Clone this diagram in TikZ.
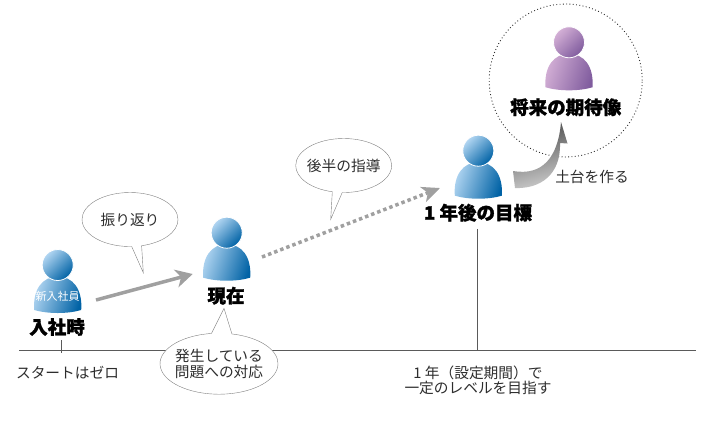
\documentclass[tikz,border=0pt]{standalone}
\usepackage{fontspec}
\setmainfont[BoldFeatures={FakeBold=1.6}]{Noto Sans CJK JP}
\usetikzlibrary{shapes.callouts,arrows.meta}
\definecolor{bluelight}{RGB}{178,214,242}
\definecolor{bluedark}{RGB}{0,98,165}
\definecolor{purplelight}{RGB}{212,176,214}
\definecolor{purpledark}{RGB}{128,92,158}
\definecolor{linegray}{RGB}{90,90,90}
\definecolor{arrowgray}{RGB}{160,160,160}
\definecolor{textgray}{RGB}{45,45,45}
\begin{document}
\begin{tikzpicture}[x=1pt,y=-1pt]
    % Define styles for nodes and arrows
    \tikzstyle{title} = [font=\fontsize{18.5}{18.5}\selectfont\bfseries, text=black, inner sep=0pt]
    \tikzstyle{note} = [font=\fontsize{14.7}{15}\selectfont, text=textgray, align=center, inner sep=0pt]
    \tikzstyle{bubble} = [ellipse callout, draw=gray, fill=white, line width=0.4pt, callout pointer arc=12, font=\fontsize{14.7}{16}\selectfont, text=textgray, align=center, inner sep=-8pt, minimum width=96pt, minimum height=54pt]
    \tikzstyle{axis} = [linegray, line width=1pt]
    \tikzstyle{arrow} = [arrowgray, line width=3.5pt, -{Stealth[length=17pt,width=18pt,inset=5pt]}]
    \tikzset{dotArrow/.style={arrowgray, line width=3.5pt, dash pattern=on 3.5pt off 3pt, -{Stealth[length=18pt,width=16pt,inset=5pt]}}}
    % Person figure, head centre at the pic origin
    \tikzset{person/.pic={
        \shade[top color=#1light, bottom color=#1dark, shading angle=72, draw=none]
            (-23.5,45) .. controls (-25,24) and (-15,11.5) .. (0,11.5)
            .. controls (15,11.5) and (25,24) .. (23.5,45)
            .. controls (10,49) and (-10,49) .. (-23.5,45) -- cycle;
        \shade[top color=#1light, bottom color=#1dark, shading angle=45, draw=white, line width=0.8pt]
            (0,0) circle (15.5);
    }}
    \useasboundingbox (0,0) rectangle (711,421);
    % Time line
    \coordinate (lineL) at (19,350);
    \coordinate (lineR) at (696,350);
    \coordinate (tickT) at (61.5,340);
    \coordinate (tickB) at (61.5,353);
    \coordinate (goalB) at (477,351);
    \draw [axis] (lineL) -- (lineR);
    \draw [axis] (tickT) -- (tickB);
    % Persons
    \pic at (57.7,265) {person=blue};
    \pic at (226.7,232.7) {person=blue};
    \pic at (478.3,150.7) {person=blue};
    \pic at (569,42.3) {person=purple};
    % Labels
    \node (newhire) [font=\fontsize{11}{11}\selectfont, text=white, inner sep=0pt] at (57.7,296.7) {新入社員};
    \node (join) [title] at (57,327) {入社時};
    \node (now) [title] at (226,295.7) {現在};
    \node (goal) [title] at (478,212.7) {1 年後の目標};
    \node (future) [title] at (565.7,107.3) {将来の期待像};
    \draw [axis] (goal.south -| goalB) ++(0,7) -- (goalB);
    % Dotted circle
    \node (ring) [circle, draw=textgray, line width=0.9pt, dash pattern=on 0.9pt off 2.4pt, minimum size=153pt, inner sep=0pt] at (565.7,80.5) {};
    % Arrows
    \coordinate (startA) at (96,300);
    \coordinate (tipA) at (192.7,274);
    \coordinate (startB) at (262,257);
    \coordinate (tipB) at (440,188);
    \draw [arrow] (startA) -- (tipA);
    \draw [dotArrow] (startB) -- (tipB);
    % Curved arrow
    \shade [top color=black!70, bottom color=black!20, shading angle=15]
        (513,171) .. controls (542,176) and (558,158) .. (561,122)
        -- (567.5,143.5) -- (560,143)
        .. controls (561,175) and (540,189) .. (515,188) -- cycle;
    % Balloons
    \node (recap) [bubble, callout absolute pointer={(143.3,272.7)}] at (130,219.5) {振り返り};
    \node (latter) [bubble, callout absolute pointer={(330.7,219.3)}] at (343.7,165.5) {後半の指導};
    \node (issue) [bubble, callout pointer arc=20, minimum width=118pt, minimum height=61pt, callout absolute pointer={(224,308.3)}] at (219,363.7) {発生している\\問題への対応};
    % Notes
    \node (base) [note] at (592,176.7) {土台を作る};
    \node (zero) [note] at (67.5,372.7) {スタートはゼロ};
    \node (level) [note] at (478,380.5) {1 年（設定期間）で\\一定のレベルを目指す};
\end{tikzpicture}
\end{document}
